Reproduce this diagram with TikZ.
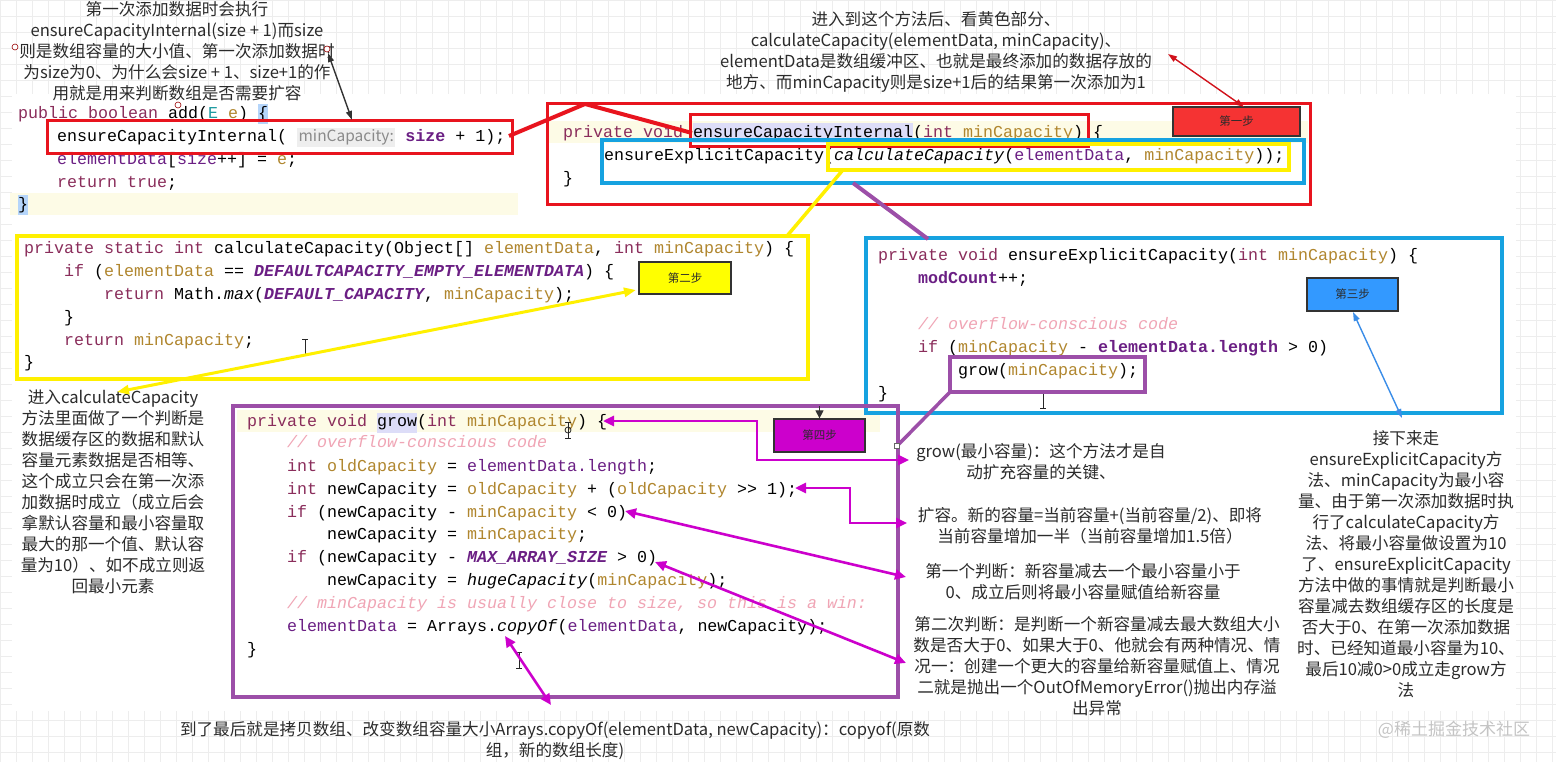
\documentclass[tikz,border=0pt]{standalone}
\usepackage{fontspec}
\setmonofont{Liberation Mono}
\newfontfamily\cjk{Noto Sans CJK SC}
\usetikzlibrary{arrows.meta}
\definecolor{kwc}{HTML}{8A2D5B}
\definecolor{pac}{HTML}{B0862E}
\definecolor{fdc}{HTML}{6B1F84}
\definecolor{cmc}{HTML}{F0A5B5}
\definecolor{tpc}{HTML}{1E9AA0}
\definecolor{inlayc}{HTML}{8A8A8A}
\definecolor{inlaybg}{HTML}{EEEEEE}
\definecolor{selc}{HTML}{DDDDF8}
\definecolor{bracec}{HTML}{B5D5FA}
\definecolor{creamc}{HTML}{FDFBE6}
\definecolor{redc}{HTML}{E8141E}
\definecolor{cyanc}{HTML}{16A2E0}
\definecolor{yelc}{HTML}{FFF000}
\definecolor{purc}{HTML}{9C4FA8}
\definecolor{magc}{HTML}{CC00CC}
\definecolor{bluea}{HTML}{3A8DE8}
\definecolor{notec}{HTML}{2B2B2B}
\definecolor{wmc}{HTML}{C4C4C4}
\definecolor{gridc}{HTML}{EDEDED}
\definecolor{boxedge}{HTML}{333333}
\definecolor{step1c}{HTML}{F53333}
\definecolor{step2c}{HTML}{FFFF00}
\definecolor{step3c}{HTML}{3399FF}
\definecolor{step4c}{HTML}{CC00CC}
\newcommand\ckw[1]{\textcolor{kwc}{#1}}
\newcommand\cpa[1]{\textcolor{pac}{#1}}
\newcommand\cfd[1]{\textcolor{fdc}{#1}}
\newcommand\ccst[1]{\textcolor{fdc}{\bfseries\itshape #1}}
\newcommand\ccm[1]{\textcolor{cmc}{\itshape #1}}
\newcommand\cinlay[1]{{\setlength\fboxsep{1.5pt}\colorbox{inlaybg}{\cjk\fontsize{15.5}{18}\selectfont\textcolor{inlayc}{#1}}}}
\newcommand\csel[1]{{\setlength\fboxsep{0pt}\colorbox{selc}{\strut #1}}}
\newcommand\cbr[1]{{\setlength\fboxsep{0pt}\colorbox{bracec}{\strut #1}}}
\newcommand\ibeam[2]{\draw[line width=0.9pt,black!85] (#1-3,#2-8) -- (#1+3,#2-8) (#1,#2-8) -- (#1,#2+8) (#1-3,#2+8) -- (#1+3,#2+8);}
\tikzset{
  code/.style={anchor=base west, inner sep=0, font=\ttfamily\fontsize{16.66}{20}\selectfont},
  note/.style={font=\cjk\fontsize{16.6}{21}\selectfont, text=notec, align=center, inner sep=0},
  panel/.style={inner sep=0, outer sep=0},
  stepbox/.style={draw=boxedge, line width=1.2pt, inner sep=0, font=\cjk\fontsize{11.5}{13}\selectfont, text=notec},
  gridline/.style={draw=gridc, line width=0.5pt},
  magarrow/.style={draw=magc, line width=2.6pt, {Triangle[length=11pt,width=10pt]}-{Triangle[length=11pt,width=10pt]}},
  thinarrow/.style={line width=1.4pt, {Triangle[length=9pt,width=6pt]}-{Triangle[length=9pt,width=6pt]}},
}
\begin{document}
\begin{tikzpicture}[x=1pt,y=-1pt]
\useasboundingbox (0,0) rectangle (1556,762);
% background grid
\foreach \i in {0,16,...,1552} \draw[gridline] (\i,0) -- (\i,762);
\foreach \j in {0,16,...,752} \draw[gridline] (0,\j) -- (1556,\j);
\fill[white] (12,94) rectangle (1516,711);
% current-line bands
\fill[creamc] (10,193) rectangle (518,215);
\fill[creamc] (549,121) rectangle (1308,143);
\fill[creamc] (237,410) rectangle (880,432);

% ---- add() code
\node[code] (a1) at (18,118.5) {\ckw{public boolean} add(\textcolor{tpc}{E} \cpa{e}) \cbr{\{}};
\node[code] (a2) at (57,141.5) {ensureCapacityInternal( \cinlay{minCapacity:} \cfd{\bfseries size} + 1);};
\node[code] (a3) at (57,164.5) {\cfd{elementData}[\cfd{size}++] = \cpa{e};};
\node[code] (a4) at (57,187.5) {\ckw{return true};};
\node[code] (a5) at (18,209.5) {\cbr{\}}};

% ---- ensureCapacityInternal code
\node[code] (b1) at (563,137.5) {\ckw{private void} \csel{ensureCapacityInternal}(\ckw{int} \cpa{minCapacity}) \{};
\node[code] (b2) at (604,160.5) {ensureExplicitCapacity(\textit{calculateCapacity}(\cfd{elementData}, \cpa{minCapacity}));};
\node[code] (b3) at (563,183.5) {\}};

% ---- calculateCapacity code
\node[code] (c1) at (24,253.5) {\ckw{private static int} calculateCapacity(Object[] \cpa{elementData}, \ckw{int} \cpa{minCapacity}) \{};
\node[code] (c2) at (64,276.5) {\ckw{if} (\cpa{elementData} == \ccst{DEFAULTCAPACITY\_EMPTY\_ELEMENTDATA}) \{};
\node[code] (c3) at (104,299.5) {\ckw{return} Math.\textit{max}(\ccst{DEFAULT\_CAPACITY}, \cpa{minCapacity});};
\node[code] (c4) at (64,322.5) {\}};
\node[code] (c5) at (64,345.5) {\ckw{return} \cpa{minCapacity};};
\node[code] (c6) at (24,367.5) {\}};

% ---- ensureExplicitCapacity code
\node[code] (d1) at (878,260.5) {\ckw{private void} ensureExplicitCapacity(\ckw{int} \cpa{minCapacity}) \{};
\node[code] (d2) at (918,283.5) {\cfd{\bfseries modCount}++;};
\node[code] (d3) at (918,329.5) {\ccm{// overflow-conscious code}};
\node[code] (d4) at (918,352.5) {\ckw{if} (\cpa{minCapacity} - \cfd{\bfseries elementData.length} > 0)};
\node[code] (d5) at (958,375.5) {grow(\cpa{minCapacity});};
\node[code] (d6) at (878,398.5) {\}};

% ---- grow code
\node[code] (e1) at (247,426.5) {\ckw{private void} \csel{grow}(\ckw{int} \cpa{minCapacity}) \{};
\node[code] (e2) at (287,447.5) {\ccm{// overflow-conscious code}};
\node[code] (e3) at (287,471.5) {\ckw{int} \cpa{oldCapacity} = \cfd{elementData.length};};
\node[code] (e4) at (287,494.5) {\ckw{int} newCapacity = \cpa{oldCapacity} + (\cpa{oldCapacity} >> 1);};
\node[code] (e5) at (287,517.5) {\ckw{if} (newCapacity - \cpa{minCapacity} < 0)};
\node[code] (e6) at (327,539.5) {newCapacity = \cpa{minCapacity};};
\node[code] (e7) at (287,562.5) {\ckw{if} (newCapacity - \ccst{MAX\_ARRAY\_SIZE} > 0)};
\node[code] (e8) at (327,585.5) {newCapacity = \textit{hugeCapacity}(\cpa{minCapacity});};
\node[code] (e9) at (287,608.5) {\ccm{// minCapacity is usually close to size, so this is a win:}};
\node[code] (e10) at (287,631.5) {\cfd{elementData} = Arrays.\textit{copyOf}(\cfd{elementData}, newCapacity);};
\node[code] (e11) at (247,654.5) {\}};

% ---- cursors
\ibeam{305}{347}
\ibeam{1043}{400}
\ibeam{519}{660}
\ibeam{568}{430}
\draw[line width=0.8pt,black!85] (568,430) circle (3);

% ---- panels
\node[panel, draw=redc, line width=3pt, minimum width=465pt, minimum height=33pt] (addbox) at (279.5,137.5) {};
\node[panel, draw=redc, line width=3pt, minimum width=763pt, minimum height=101pt] (p1) at (928.5,154.5) {};
\node[panel, draw=redc, line width=3pt, minimum width=398pt, minimum height=32pt] (ecibox) at (889,131) {};
\node[panel, draw=cyanc, line width=3.5pt, minimum width=702pt, minimum height=43pt] (eecbox) at (953,161.5) {};
\node[panel, draw=yelc, line width=3.5pt, minimum width=461pt, minimum height=26pt] (ccbox) at (1058.5,157) {};
\node[panel, draw=yelc, line width=4pt, minimum width=791pt, minimum height=143pt] (p2) at (412.5,307.5) {};
\node[panel, draw=cyanc, line width=4pt, minimum width=636pt, minimum height=175pt] (p3) at (1184,325.5) {};
\node[panel, draw=purc, line width=4pt, minimum width=195pt, minimum height=35pt] (growbox) at (1047.5,374.5) {};
\node[panel, draw=purc, line width=4.5pt, minimum width=665pt, minimum height=291pt] (p4) at (565.5,551.5) {};

% ---- step boxes
\node[stepbox, fill=step1c, minimum width=127pt, minimum height=29pt] (s1) at (1236.5,121.5) {第一步};
\node[stepbox, fill=step2c, minimum width=92pt, minimum height=32pt] (s2) at (685,278) {第二步};
\node[stepbox, fill=step3c, minimum width=91pt, minimum height=33pt] (s3) at (1352.5,294.5) {第三步};
\node[stepbox, fill=step4c, minimum width=91pt, minimum height=33pt] (s4) at (819.5,435.5) {第四步};

% ---- annotations
\node[note] (n1) at (177,51.5) {第一次添加数据时会执行\\ensureCapacityInternal(size + 1)而size\\则是数组容量的大小值、第一次添加数据时\\为size为0、为什么会size + 1、size+1的作\\用就是用来判断数组是否需要扩容};
\node[note] (n2) at (936,51.5) {进入到这个方法后、看黄色部分、\\calculateCapacity(elementData, minCapacity)、\\elementData是数组缓冲区、也就是最终添加的数据存放的\\地方、而minCapacity则是size+1后的结果第一次添加为1};
\node[note] (n3) at (113,492) {进入calculateCapacity\\方法里面做了一个判断是\\数据缓存区的数据和默认\\容量元素数据是否相等、\\这个成立只会在第一次添\\加数据时成立（成立后会\\拿默认容量和最小容量取\\最大的那一个值、默认容\\量为10）、如不成立则返\\回最小元素};
\node[note] (n4) at (1041,461.5) {grow(最小容量)：这个方法才是自\\动扩充容量的关键、};
\node[note] (n5) at (1090,525.5) {扩容。新的容量=当前容量+(当前容量/2)、即将\\当前容量增加一半（当前容量增加1.5倍）};
\node[note] (n6) at (1083,581.5) {第一个判断：新容量减去一个最小容量小于\\0、成立后则将最小容量赋值给新容量};
\node[note] (n7) at (1097,666) {第二次判断：是判断一个新容量减去最大数组大小\\数是否大于0、如果大于0、他就会有两种情况、情\\况一：创建一个更大的容量给新容量赋值上、情况\\二就是抛出一个OutOfMemoryError()抛出内存溢\\出异常};
\node[note] (n8) at (1406,564) {接下来走\\ensureExplicitCapacity方\\法、minCapacity为最小容\\量、由于第一次添加数据时执\\行了calculateCapacity方\\法、将最小容量做设置为10\\了、ensureExplicitCapacity\\方法中做的事情就是判断最小\\容量减去数组缓存区的长度是\\否大于0、在第一次添加数据\\时、已经知道最小容量为10、\\最后10减0>0成立走grow方\\法};
\node[note] (n9) at (555,740.5) {到了最后就是拷贝数组、改变数组容量大小Arrays.copyOf(elementData, newCapacity)：copyof(原数\\组，新的数组长度)};
\node[font=\cjk\fontsize{17}{20}\selectfont, text=wmc, inner sep=0] (wm) at (1454,730) {@稀土掘金技术社区};

% ---- handles
\draw[red!60!black, line width=0.6pt, fill=white] (15,47) circle (3);
\draw[red!60!black, line width=0.6pt, fill=white] (327,49) circle (3);
\draw[red!60!black, line width=0.6pt] (178,105) circle (3);

% ---- named connector ends
\coordinate (k1a) at (328,53);
\coordinate (k1b) at (352,120);
\coordinate (r1a) at (509,136);
\coordinate (r1m) at (585,104);
\coordinate (r1b) at (692,133);
\coordinate (r2a) at (1168,54);
\coordinate (r2b) at (1244,107);
\coordinate (y1a) at (842,171);
\coordinate (y1b) at (787,236);
\coordinate (p1a) at (853,183);
\coordinate (p1b) at (928,239);
\coordinate (y2a) at (636,290);
\coordinate (y2b) at (117,392);
\coordinate (b1a) at (1353,312);
\coordinate (b1b) at (1402,418);
\coordinate (g1a) at (951,391);
\coordinate (g1b) at (897,446);
\coordinate (s4a) at (819.5,406);
\coordinate (ma1) at (603,421);
\coordinate (ma2) at (909,460);
\coordinate (mb1) at (795,488);
\coordinate (mb2) at (907,523);
\coordinate (mc1) at (625,511);
\coordinate (mc2) at (906,577);
\coordinate (md1) at (655,562);
\coordinate (md2) at (906,663);
\coordinate (me1) at (505,636);
\coordinate (me2) at (551,705);

% ---- connectors
\draw[thinarrow, black!80] (k1a) -- (k1b);
\draw[redc, line width=4pt, line join=round] (r1a) -- (r1m) -- (r1b);
\draw[thinarrow, redc!90!black] (r2a) -- (r2b);
\draw[yelc, line width=3.5pt] (y1a) -- (y1b);
\draw[purc, line width=4pt] (p1a) -- (p1b);
\draw[yelc, line width=3pt, {Triangle[length=12pt,width=9pt]}-{Triangle[length=12pt,width=9pt]}] (y2a) -- (y2b);
\draw[thinarrow, bluea] (b1a) -- (b1b);
\draw[purc, line width=3.5pt] (g1a) -- (g1b);
\draw[white, fill=white] (g1b) ++(-2.5,-2.5) rectangle ++(5,5);
\draw[black!60, line width=0.6pt] (g1b) ++(-2.5,-2.5) rectangle ++(5,5);
\draw[black!80, line width=1pt, -{Triangle[length=8pt,width=8pt]}] (s4a) -- (s4.north);
\draw[magarrow] (ma1) -- ++(154,0) |- (ma2);
\draw[magarrow] (mb1) -- ++(55,0) |- (mb2);
\draw[magarrow] (mc1) -- (mc2);
\draw[magarrow] (md1) -- (md2);
\draw[magarrow] (me1) -- (me2);
\end{tikzpicture}
\end{document}
